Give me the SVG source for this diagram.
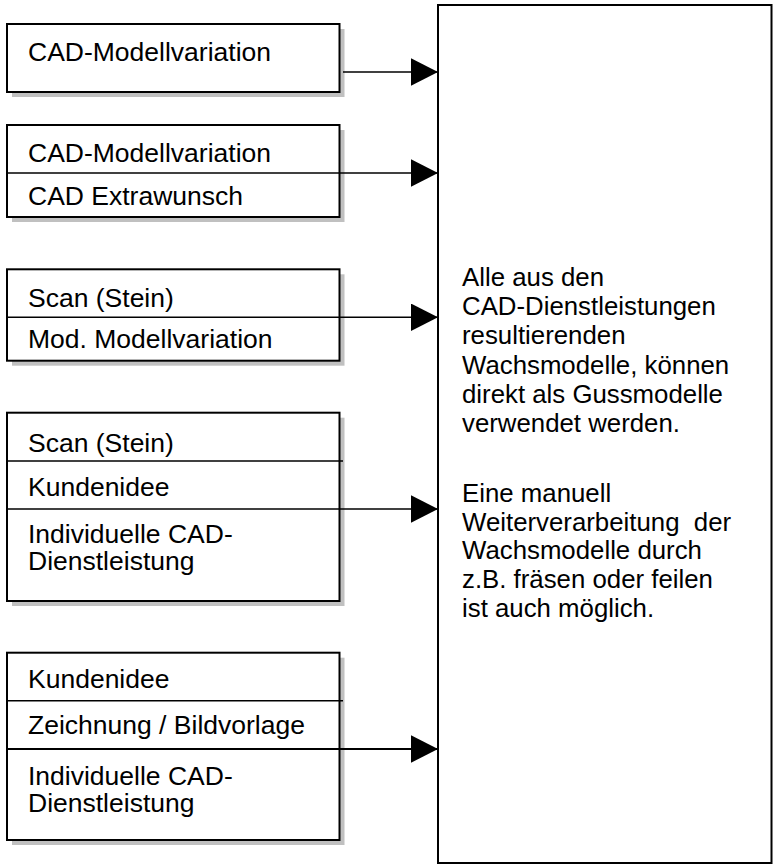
<svg xmlns="http://www.w3.org/2000/svg" width="773" height="865" viewBox="0 0 773 865">
<defs>
<style>
.box{fill:#ffffff;stroke:#000000;stroke-width:2}
.shadow{fill:#c0c0c0;stroke:none}
.div{stroke:#000000;stroke-width:1.5;fill:none}
.t{font-family:"Liberation Sans",Arial,sans-serif;font-size:26.5px;fill:#000000}
.tb{font-family:"Liberation Sans",Arial,sans-serif;font-size:25.8px;fill:#000000}
.conn{stroke:#000000;stroke-width:1.5;fill:none;marker-end:url(#arr)}
</style>
<marker id="arr" markerUnits="userSpaceOnUse" markerWidth="28" markerHeight="28" refX="27" refY="13.75" orient="auto" viewBox="0 0 28 28">
<path d="M0,0 L27,13.75 L0,27.5 Z" fill="#000000"/>
</marker>
</defs>
<rect width="773" height="865" fill="#ffffff"/>

<g id="target">
<rect class="box" x="438" y="5" width="333.5" height="858"/>
<text class="tb" x="462" y="286">Alle aus den</text>
<text class="tb" x="462" y="315">CAD-Dienstleistungen</text>
<text class="tb" x="462" y="344">resultierenden</text>
<text class="tb" x="462" y="374">Wachsmodelle, können</text>
<text class="tb" x="462" y="403">direkt als Gussmodelle</text>
<text class="tb" x="462" y="432">verwendet werden.</text>
<text class="tb" x="462" y="502">Eine manuell</text>
<text class="tb" x="462" y="531" xml:space="preserve">Weiterverarbeitung  der</text>
<text class="tb" x="462" y="559">Wachsmodelle durch</text>
<text class="tb" x="462" y="588">z.B. fräsen oder feilen</text>
<text class="tb" x="462" y="617">ist auch möglich.</text>
</g>

<g id="node1">
<rect class="shadow" x="12" y="29" width="332.5" height="68"/>
<rect class="box" x="7" y="24" width="332.5" height="68"/>
<text class="t" x="28" y="61">CAD-Modellvariation</text>
</g>

<g id="node2">
<rect class="shadow" x="12" y="130" width="332.5" height="92"/>
<rect class="box" x="7" y="125" width="332.5" height="92"/>
<text class="t" x="28" y="162">CAD-Modellvariation</text>
<text class="t" x="28" y="205">CAD Extrawunsch</text>
<line class="div" x1="7" y1="173" x2="339.5" y2="173"/>
</g>

<g id="node3">
<rect class="shadow" x="12" y="274.3" width="332.5" height="91.4"/>
<rect class="box" x="7" y="269.3" width="332.5" height="91.4"/>
<text class="t" x="28" y="307">Scan (Stein)</text>
<text class="t" x="28" y="348">Mod. Modellvariation</text>
<line class="div" x1="7" y1="317.3" x2="339.5" y2="317.3"/>
</g>

<g id="node4">
<rect class="shadow" x="12" y="417.7" width="332.5" height="188.3"/>
<rect class="box" x="7" y="412.7" width="332.5" height="188.3"/>
<text class="t" x="28" y="451.7">Scan (Stein)</text>
<line class="div" x1="7" y1="461" x2="343" y2="461"/>
<text class="t" x="28" y="496">Kundenidee</text>
<line class="div" x1="7" y1="509" x2="339.5" y2="509"/>
<text class="t" x="28" y="543.3">Individuelle CAD-</text>
<text class="t" x="28" y="570">Dienstleistung</text>
</g>

<g id="node5">
<rect class="shadow" x="12" y="657.7" width="332.5" height="187.3"/>
<rect class="box" x="7" y="652.7" width="332.5" height="187.3"/>
<text class="t" x="28" y="688">Kundenidee</text>
<line class="div" x1="7" y1="700.7" x2="343" y2="700.7"/>
<text class="t" x="28" y="734">Zeichnung / Bildvorlage</text>
<line class="div" x1="7" y1="749" x2="339.5" y2="749" style="stroke-width:2"/>
<text class="t" x="28" y="785">Individuelle CAD-</text>
<text class="t" x="28" y="811.7">Dienstleistung</text>
</g>

<g id="connectors">
<line class="conn" x1="343" y1="72" x2="438" y2="72"/>
<line class="conn" x1="339.5" y1="173" x2="438" y2="173"/>
<line class="conn" x1="339.5" y1="317.3" x2="438" y2="317.3"/>
<line class="conn" x1="339.5" y1="509" x2="438" y2="509"/>
<line class="conn" x1="339.5" y1="749" x2="438" y2="749" style="stroke-width:2"/>
</g>
</svg>
